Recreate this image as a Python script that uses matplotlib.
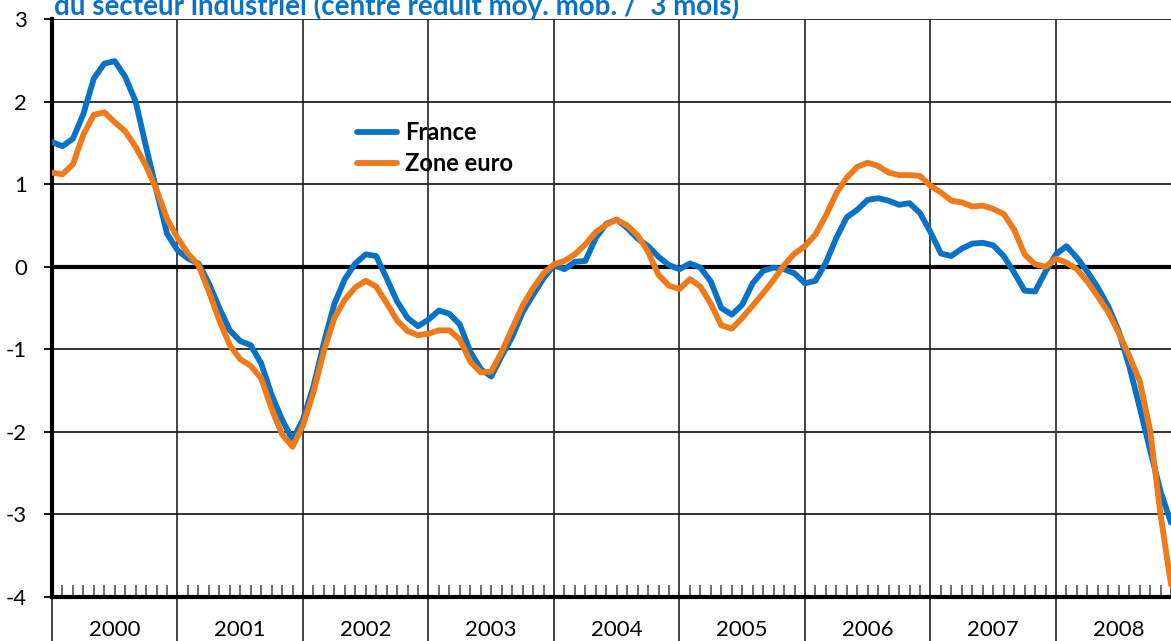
import numpy as np
import matplotlib.pyplot as plt
import matplotlib.transforms as mtransforms

# Séries mensuelles janv. 2000 - déc. 2008
france = [
    1.51, 1.46, 1.55, 1.85, 2.28, 2.46, 2.49, 2.30, 2.00, 1.45, 0.92, 0.40,
    0.20, 0.10, 0.04, -0.20, -0.50, -0.77, -0.90, -0.95, -1.17, -1.55, -1.85, -2.10,
    -1.85, -1.45, -0.92, -0.45, -0.15, 0.04, 0.15, 0.13, -0.14, -0.42, -0.62, -0.72,
    -0.64, -0.53, -0.57, -0.70, -1.03, -1.24, -1.33, -1.08, -0.85, -0.55, -0.34, -0.14,
    0.02, -0.03, 0.06, 0.07, 0.35, 0.52, 0.57, 0.47, 0.34, 0.25, 0.12, 0.02,
    -0.03, 0.04, -0.01, -0.18, -0.50, -0.58, -0.46, -0.20, -0.05, -0.01, -0.03, -0.08,
    -0.20, -0.17, 0.05, 0.35, 0.60, 0.69, 0.81, 0.83, 0.80, 0.75, 0.77, 0.65,
    0.42, 0.16, 0.13, 0.22, 0.28, 0.29, 0.26, 0.13, -0.07, -0.29, -0.30, -0.06,
    0.15, 0.25, 0.11, -0.06, -0.25, -0.48, -0.78, -1.20, -1.70, -2.22, -2.72, -3.10,
]
zone_euro = [
    1.14, 1.12, 1.24, 1.60, 1.84, 1.87, 1.75, 1.64, 1.45, 1.22, 0.93, 0.58,
    0.35, 0.16, 0.02, -0.30, -0.65, -0.95, -1.12, -1.20, -1.35, -1.72, -2.03, -2.18,
    -1.92, -1.52, -1.02, -0.62, -0.40, -0.25, -0.17, -0.24, -0.44, -0.65, -0.78, -0.83,
    -0.81, -0.77, -0.77, -0.88, -1.15, -1.28, -1.27, -1.03, -0.75, -0.47, -0.26, -0.08,
    0.03, 0.07, 0.15, 0.27, 0.42, 0.51, 0.57, 0.50, 0.38, 0.18, -0.10, -0.23,
    -0.27, -0.15, -0.24, -0.45, -0.71, -0.75, -0.62, -0.47, -0.32, -0.16, 0.02, 0.16,
    0.25, 0.39, 0.62, 0.89, 1.08, 1.21, 1.26, 1.22, 1.14, 1.11, 1.11, 1.10,
    0.98, 0.90, 0.80, 0.78, 0.73, 0.74, 0.70, 0.64, 0.45, 0.15, 0.03, 0.00,
    0.10, 0.05, -0.03, -0.18, -0.36, -0.55, -0.80, -1.08, -1.38, -1.98, -3.00, -3.85,
]
annees = ['2000', '2001', '2002', '2003', '2004', '2005', '2006', '2007', '2008']

bleu = '#0a72c6'
orange = '#ee7a1a'
plt.rcParams['font.family'] = ['Lato', 'DejaVu Sans']

mois = np.arange(len(france))

fig = plt.figure(figsize=(11.71, 6.41), dpi=100)
ax = fig.add_axes([0.0444, 0.0686, 0.9556, 0.9017])

ax.plot(mois, france, color=bleu, lw=4.2, label='France', solid_capstyle='round', zorder=4)
ax.plot(mois, zone_euro, color=orange, lw=4.2, label='Zone euro', solid_capstyle='round', zorder=5)

# grille
ax.set_yticks(range(-4, 4))
ax.set_yticklabels([str(v) for v in range(-4, 4)], fontsize=16)
ax.grid(axis='y', color='#222222', lw=1.3)
ax.axhline(0, color='black', lw=3, zorder=3)

debuts = np.arange(0, len(france) + 1, 12)
ax.set_xticks(debuts)
ax.set_xticklabels([])
ax.set_xticks(np.arange(0, len(france)), minor=True)
ax.grid(axis='x', which='major', color='#222222', lw=1.2)
ax.tick_params(axis='x', which='major', direction='out', length=32, width=1.2, color='#222222')
ax.tick_params(axis='x', which='minor', direction='in', length=9, width=1.2, color='#555555')
ax.tick_params(axis='y', direction='out', length=6, width=1.3, pad=12)

ax.set_xlim(0, len(france) - 1)
ax.set_ylim(-4, 3)

for s in ['top', 'right']:
    ax.spines[s].set_visible(False)
ax.spines['left'].set_linewidth(3)
ax.spines['bottom'].set_linewidth(3)

trans = mtransforms.blended_transform_factory(ax.transData, ax.transAxes)
for i, a in enumerate(annees):
    ax.text(i * 12 + 6, -0.057, a, transform=trans, ha='center', va='center',
            fontsize=16, clip_on=False)

ax.legend(loc='upper left', bbox_to_anchor=(0.2725, 0.823), frameon=False,
          borderpad=0, borderaxespad=0, handlelength=1.7, handletextpad=0.35,
          labelspacing=0.33, prop={'weight': 'bold', 'size': 17})

fig.text(0.046, 0.977, 'du secteur industriel (centre réduit moy. mob. /  3 mois)',
         color=bleu, fontsize=20, fontweight='bold', va='baseline', ha='left')

fig.savefig('out.png', dpi=100)
